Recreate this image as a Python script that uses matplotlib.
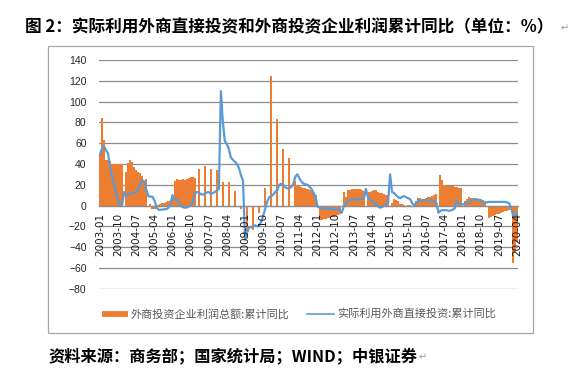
import numpy as np
import pandas as pd
import matplotlib
matplotlib.use('Agg')
import matplotlib.pyplot as plt
from matplotlib.lines import Line2D
from matplotlib.patches import Rectangle

nan = np.nan
months = pd.date_range('2003-01', '2020-04', freq='MS').strftime('%Y-%m').tolist()

# 外商投资企业利润总额:累计同比 (bars), 2003-01 .. 2020-04
profit_yoy = [
    49, 84, 63, 44, 44, 43, 40, 40, 40, 40, 40, 40,            # 2003
    nan, 32.6, 40.6, 44, 41.6, 37, 34, 32.6, 31, 28.7, 23, 25.5,  # 2004
    nan, 1, -3, -3, -3, 0.5, 1, 2, 2.5, 3.5, 4.5, 5.5,          # 2005
    7, 24, 26, 25, 25, 26, 25, 26, 26.5, 27, 27, 26.5,          # 2006
    nan, 35, nan, nan, 38, nan, nan, 35, nan, nan, 34, nan,     # 2007
    nan, 22.6, nan, nan, 22.6, nan, nan, 14, nan, nan, -3, nan, # 2008
    nan, -32, nan, nan, -24, nan, nan, -7, nan, nan, 17, nan,   # 2009
    nan, 125, nan, nan, 83.5, nan, nan, 54.5, nan, nan, 46, nan,  # 2010
    nan, 24, 20, 19, 18, 17, 16.5, 16, 15, 14, 12, 10,          # 2011
    nan, -14, -13.5, -13, -12.5, -12, -12, -11.5, -11, -10, -9.5, -8.5,  # 2012
    nan, 13, 8, 15, 15, 15.5, 15.5, 15.5, 15.5, 15.5, 15, 14,   # 2013
    nan, 13, 13.5, 14, 15, 14.5, 13.5, 12.5, 12, 11.5, 10.5, 10,  # 2014
    nan, 2, 6, 5, 4, 1.5, 1, 0.5, -1, 0.5, 0.5, -1,             # 2015
    nan, 4.5, 7.5, 7, 6.5, 6.5, 7.5, 8, 8, 9, 10.5, 11.5,       # 2016
    nan, 29, 24.5, 20, 19.5, 19, 19, 18.5, 18, 18, 17, 17,      # 2017
    nan, 4.5, 6.5, 8.4, 7.5, 7, 6.8, 6.5, 6, 6, 5, 4,           # 2018
    nan, -12, -11, -10, -9, -8.5, -8, -7, -6.5, -5.5, -5, -4,   # 2019
    nan, -55, -45, -35,                                         # 2020
]

# 实际利用外商直接投资:累计同比 (line), 2003-01 .. 2020-04
fdi_yoy = [
    49, 55, 57, 53, 50, 36, 28, 20, 12, 4, 0.5, 1,              # 2003
    13, 9.5, 10.5, 11.5, 12, 12.5, 13, 16, 21, 24.5, 23, 15,    # 2004
    9, 8.5, 8.5, 5, -1, -4, -4, -4, -3.5, -3.5, -2, 1.5,        # 2005
    10, 7, 6, 3, 0.5, -1.5, -2, -2, -1, 0.5, 2.5, 11,           # 2006
    13, 12.5, 11, 10.5, 11.5, 12.5, 13, 11, 12, 13, 14.5, 16,   # 2007
    110, 80, 62, 59, 54, 46, 44, 42, 40, 36, 29, 24,            # 2008
    -33, -26, -21, -21, -20, -19, -20, -19, -16, -10, -3, 4,    # 2009
    8, 9, 10.5, 13, 15, 20, 21, 20, 17.5, 16.5, 16.5, 18,       # 2010
    21, 28, 30, 26, 23, 21, 20.5, 20, 18, 16, 12, 8.5,          # 2011
    -1, -2, -2.5, -3, -3, -3, -3, -3.5, -3.5, -3.5, -4, -4.5,   # 2012
    -7, -1, 2, 4, 5.5, 6, 6.5, 6, 6, 6, 6.5, 6.5,               # 2013
    16, 8, 5.5, 4, 3, 1, -1, -2, -1.5, -0.5, 1.5, 2.5,          # 2014
    30, 13, 12, 10, 8, 7, 8.5, 9, 8, 7, 6, 2,                   # 2015
    0, 3, 4.5, 5, 5, 5, 5, 5, 5, 4.5, 4.5, 2,                   # 2016
    -7, -5, -4.5, -4.5, -4.5, -5, -5, -4, -3, 5, 2, 1,          # 2017
    1, 1.5, 2, 3, 4.5, 5.5, 6, 6, 5.5, 5, 2, 3,                 # 2018
    3, 3.5, 3.5, 3.5, 3.5, 3.5, 3.5, 3.5, 3.5, 3.5, 3, 2.5,     # 2019
    -2, -9, -11, -7,                                            # 2020
]

tick_labels = months[::9]
y_ticks = list(range(-80, 141, 20))
legend_labels = ['外商投资企业利润总额:累计同比', '实际利用外商直接投资:累计同比']
title = '图 2：实际利用外商直接投资和外商投资企业利润累计同比（单位：%）'
source = '资料来源：商务部；国家统计局；WIND；中银证券'

ORANGE = '#ED7D31'
BLUE = '#5B9BD5'
CJK = ['Noto Sans CJK SC', 'DejaVu Sans']

W, H = 581, 386
fig = plt.figure(figsize=(W / 100, H / 100), dpi=100)


def fx(px):
    return px / W


def fy(py):
    return 1 - py / H


# chart frame
fig.add_artist(Rectangle((fx(48), fy(333)), fx(533) - fx(48), fy(46) - fy(333),
                         transform=fig.transFigure, fill=False,
                         edgecolor='#A6A6A6', lw=0.9))

ax = fig.add_axes([fx(99), fy(288.7), fx(518) - fx(99), fy(60) - fy(288.7)])
x = np.arange(len(months))
ax.bar(x, profit_yoy, width=1.0, color=ORANGE, edgecolor='none', zorder=2)
ax.plot(x, fdi_yoy, color=BLUE, lw=1.6, zorder=3)
ax.set_xlim(-0.5, len(months) - 0.5)
ax.set_ylim(-80, 140)
ax.set_yticks(y_ticks)
ax.grid(axis='y', color='#8C8C8C', lw=0.9)
ax.set_axisbelow(True)
for s in ['top', 'right', 'left']:
    ax.spines[s].set_visible(False)
ax.spines['bottom'].set_position(('data', 0))
ax.spines['bottom'].set_color('#8C8C8C')
ax.spines['bottom'].set_linewidth(0.9)
ax.set_xticks(x[::9])
ax.set_xticklabels(tick_labels, rotation=90, fontsize=7.5, family='DejaVu Sans',
                   color='#1a1a1a')
ax.tick_params(axis='x', length=0, pad=5)
ax.tick_params(axis='y', length=0, pad=9, labelsize=7.5, labelcolor='#262626')
for lab in ax.get_yticklabels():
    lab.set_family('Liberation Sans')
ax.xaxis.set_zorder(4)
ax.patch.set_alpha(0)

# legend (manual)
ly = fy(314)
fig.add_artist(Line2D([fx(102), fx(128)], [ly, ly], transform=fig.transFigure,
                      color=ORANGE, lw=4.2, solid_capstyle='butt'))
fig.text(fx(131), ly, legend_labels[0], fontsize=8, family=CJK, color='#595959',
         va='center', ha='left')
fig.add_artist(Line2D([fx(307), fx(334)], [ly, ly], transform=fig.transFigure,
                      color=BLUE, lw=1.2))
fig.text(fx(337), ly, legend_labels[1], fontsize=8, family=CJK, color='#595959',
         va='center', ha='left')

# title and source
fig.text(fx(25), fy(27), title, fontsize=12.0, family=CJK, weight='bold',
         va='center', ha='left', color='black')
fig.text(fx(561), fy(28), '\u21b5', fontsize=7, family='DejaVu Sans',
         color='#999999', va='center', ha='left')
fig.text(fx(48), fy(356), source, fontsize=11.7, family=CJK, weight='bold',
         va='center', ha='left', color='black')
fig.text(fx(419), fy(357), '\u21b5', fontsize=7, family='DejaVu Sans',
         color='#999999', va='center', ha='left')

fig.savefig('out.png', dpi=100)
